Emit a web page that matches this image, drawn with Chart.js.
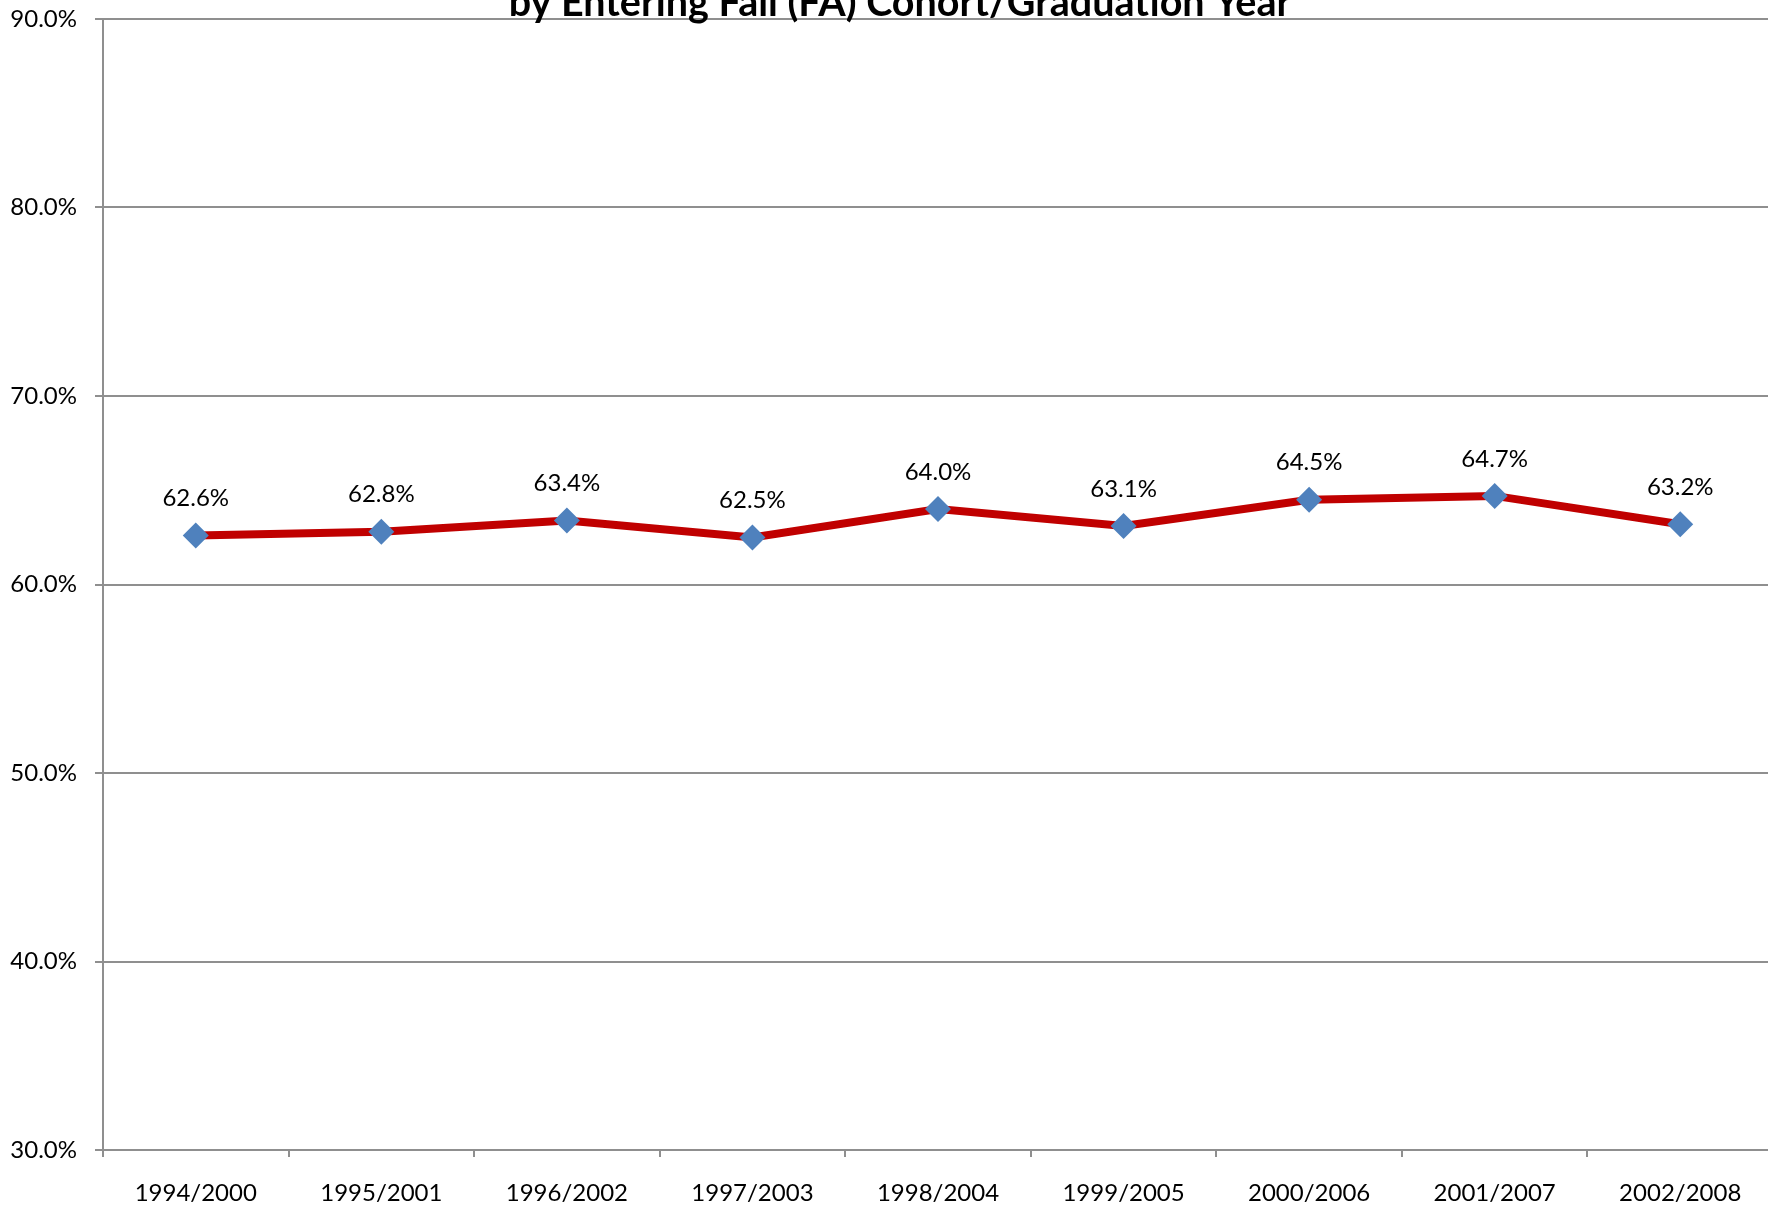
<!DOCTYPE html>
<html>
<head>
<meta charset="utf-8">
<script src="https://cdn.jsdelivr.net/npm/chart.js@4"></script>
<style>
  html, body { margin: 0; padding: 0; background: #fff; overflow: hidden; }
  #wrap { position: absolute; left: 0; top: 0; width: 1786px; height: 1206px; }
</style>
</head>
<body>
<div id="wrap"><canvas id="grad_chart" width="1786" height="1206"></canvas></div>
<script>
// cohort / graduation year
const cohorts = ["1994/2000", "1995/2001", "1996/2002", "1997/2003", "1998/2004",
  "1999/2005", "2000/2006", "2001/2007", "2002/2008"];
const gradRate = [62.6, 62.8, 63.4, 62.5, 64.0, 63.1, 64.5, 64.7, 63.2];
const yTicks = [30, 40, 50, 60, 70, 80, 90];

const titleLine = "by Entering Fall (FA) Cohort/Graduation Year";

Chart.defaults.font.family = "Lato, 'Open Sans', sans-serif";
Chart.defaults.color = "#000";

// title is cut at the top edge of the picture
const cutTitle = {
  id: "cutTitle",
  afterDraw(chart) {
    const ctx = chart.ctx;
    ctx.save();
    ctx.font = "bold 39.5px Lato, sans-serif";
    ctx.fillStyle = "#000";
    ctx.textAlign = "center";
    ctx.textBaseline = "alphabetic";
    ctx.fillText(titleLine, 900, 16);
    ctx.restore();
  },
};

// value labels above the points
const valueLabels = {
  id: "valueLabels",
  afterDatasetsDraw(chart) {
    const ctx = chart.ctx;
    const meta = chart.getDatasetMeta(0);
    ctx.save();
    ctx.font = "24px Lato, sans-serif";
    ctx.fillStyle = "#000";
    ctx.textAlign = "center";
    ctx.textBaseline = "middle";
    meta.data.forEach(function (pt, i) {
      ctx.fillText(gradRate[i].toFixed(1) + "%", pt.x, pt.y - 37);
    });
    ctx.restore();
  },
};

const gridGray = "#8f8f8f";

var ctx = document.getElementById("grad_chart").getContext("2d");
var myChart = new Chart(ctx, {
  type: "line",
  plugins: [valueLabels, cutTitle],
  data: {
    labels: cohorts,
    datasets: [
      {
        data: gradRate,
        borderColor: "#C00000",
        borderWidth: 8,
        tension: 0,
        pointStyle: "rectRot",
        pointRadius: 13,
        pointHoverRadius: 13,
        pointBackgroundColor: "#4F81BD",
        pointBorderColor: "#4F81BD",
        pointBorderWidth: 0,
      },
    ],
  },
  options: {
    responsive: false,
    animation: false,
    layout: { padding: { top: 19, right: 2, left: 0, bottom: 0 } },
    plugins: {
      legend: { display: false },
      tooltip: { enabled: false },
      title: { display: false },
    },
    scales: {
      x: {
        type: "category",
        offset: true,
        grid: {
          offset: true,
          drawOnChartArea: false,
          tickLength: 7,
          color: gridGray,
          lineWidth: 2,
        },
        border: { display: true, color: gridGray, width: 2 },
        ticks: { font: { size: 24 }, padding: 22, maxRotation: 0 },
        afterFit: function (scale) {
          scale.height = 56;
          scale.paddingLeft = 0;
          scale.paddingRight = 0;
        },
      },
      y: {
        min: yTicks[0],
        max: yTicks[yTicks.length - 1],
        afterBuildTicks: function (scale) {
          scale.ticks = yTicks.map(function (v) { return { value: v }; });
        },
        grid: { color: gridGray, lineWidth: 2, tickLength: 8 },
        border: { display: true, color: gridGray, width: 2 },
        ticks: {
          font: { size: 24 },
          padding: 18,
          callback: function (v) { return v.toFixed(1) + "%"; },
        },
        afterFit: function (scale) {
          scale.width = 103;
          scale.paddingTop = 0;
          scale.paddingBottom = 0;
        },
      },
    },
  },
});
</script>
</body>
</html>
